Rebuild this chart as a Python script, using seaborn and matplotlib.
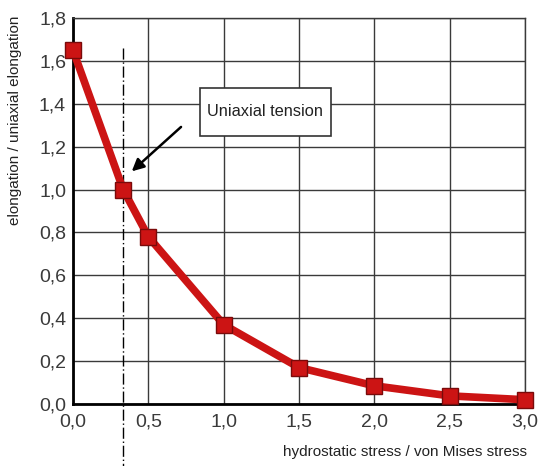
import matplotlib
matplotlib.use("Agg")
import matplotlib.pyplot as plt
import matplotlib.patches as mpatches
import seaborn as sns
import pandas as pd

# data
stress_ratio = [0.0, 0.333, 0.5, 1.0, 1.5, 2.0, 2.5, 3.0]
elongation_ratio = [1.65, 1.00, 0.78, 0.37, 0.17, 0.085, 0.038, 0.02]
x_ticks = [0.0, 0.5, 1.0, 1.5, 2.0, 2.5, 3.0]
x_tick_labels = ["0,0", "0,5", "1,0", "1,5", "2,0", "2,5", "3,0"]
y_ticks = [0.0, 0.2, 0.4, 0.6, 0.8, 1.0, 1.2, 1.4, 1.6, 1.8]
y_tick_labels = ["0,0", "0,2", "0,4", "0,6", "0,8", "1,0", "1,2", "1,4", "1,6", "1,8"]
uniaxial_x = 0.333
uniaxial_y = 1.0

sns.set_style("white")
plt.rcParams['font.family'] = ['Liberation Sans', 'DejaVu Sans']

df = pd.DataFrame({"x": stress_ratio, "y": elongation_ratio})

fig = plt.figure(figsize=(5.42, 4.66), dpi=100)
ax = fig.add_axes([0.1347, 0.133, 0.834, 0.8284])

ax.set_xlim(0, 3.0)
ax.set_ylim(0, 1.8)
ax.set_xticks(x_ticks)
ax.set_xticklabels(x_tick_labels)
ax.set_yticks(y_ticks)
ax.set_yticklabels(y_tick_labels)
ax.grid(True, color="#3a3a3a", linewidth=1.0)
ax.set_axisbelow(True)
for s in ["top", "right"]:
    ax.spines[s].set_color("#3a3a3a")
    ax.spines[s].set_linewidth(1.0)
for s in ["left", "bottom"]:
    ax.spines[s].set_color("black")
    ax.spines[s].set_linewidth(2.0)
ax.tick_params(axis="both", length=0, labelsize=14, colors="#3a3a3a")
ax.tick_params(axis="y", pad=5)
ax.tick_params(axis="x", pad=7)

sns.lineplot(data=df, x="x", y="y", ax=ax, color="#cc1414", linewidth=5.5,
             marker="s", markersize=11, markerfacecolor="#cc1414",
             markeredgecolor="#7a0a0a", markeredgewidth=1.0, clip_on=False, zorder=5)

ax.plot([uniaxial_x, uniaxial_x], [1.66, -0.29], color="black", linewidth=1.0,
        linestyle=(0, (8, 2, 1, 2)), clip_on=False, zorder=3)

# annotation box
box = mpatches.Rectangle((0.843, 1.25), 0.869, 0.224, facecolor="white",
                         edgecolor="#333333", linewidth=1.2, zorder=6)
ax.add_patch(box)
ax.text(1.277, 1.362, "Uniaxial tension", fontsize=11.8, color="#222222",
        ha="center", va="center", zorder=7)
ax.annotate("", xy=(0.39, 1.085), xytext=(0.717, 1.292),
            arrowprops=dict(arrowstyle="-|>", color="black", lw=1.8,
                            shrinkA=0, shrinkB=0, mutation_scale=18),
            zorder=7)

ax.set_xlabel("hydrostatic stress / von Mises stress", fontsize=11, color="#222222")
ax.xaxis.set_label_coords(1.005, -0.125)
ax.xaxis.label.set_horizontalalignment("right")
ax.xaxis.label.set_verticalalignment("center")
ax.set_ylabel("elongation / uniaxial elongation", fontsize=11, color="#222222")
ax.yaxis.set_label_coords(-0.128, 0.736)
ax.yaxis.label.set_verticalalignment("center")

fig.savefig("out.png", dpi=100)
